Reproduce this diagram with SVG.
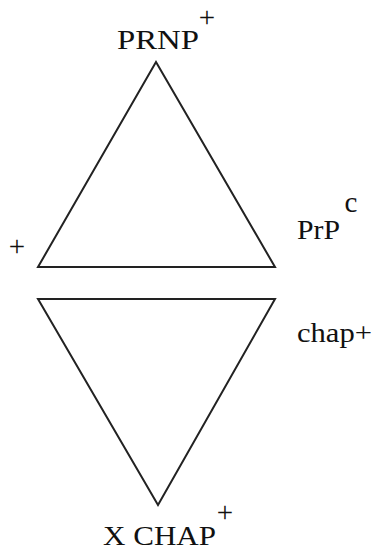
<svg xmlns="http://www.w3.org/2000/svg" width="376" height="550" viewBox="0 0 376 550">
<style>
.t{font-family:"Liberation Serif","Times New Roman",serif;font-size:28px;fill:#111}
.s{font-family:"Liberation Serif","Times New Roman",serif;font-size:29px;fill:#111;text-anchor:middle}
.tri{fill:none;stroke:#222;stroke-width:2;stroke-linejoin:miter}
</style>
<rect width="376" height="550" fill="#fff"/>
<g id="connectors"></g>
<g id="upper-triangle"><polygon class="tri" points="156,62 38,267 275,267"/></g>
<g id="lower-triangle"><polygon class="tri" points="38,299 275,299 158,505"/></g>
<g id="prnp"><text class="t" x="117" y="49" textLength="82" lengthAdjust="spacingAndGlyphs">PRNP</text><text class="s" x="207" y="27">+</text></g>
<g id="prpc"><text class="t" x="297" y="239" textLength="43" lengthAdjust="spacingAndGlyphs">PrP</text><text class="s" x="351" y="212">c</text></g>
<g id="plus-left"><text class="s" x="17" y="256">+</text></g>
<g id="chap"><text class="t" x="297" y="342" textLength="75" lengthAdjust="spacingAndGlyphs">chap+</text></g>
<g id="xchap"><text class="t" x="103" y="545" textLength="113" lengthAdjust="spacingAndGlyphs">X CHAP</text><text class="s" x="225" y="522">+</text></g>
</svg>
